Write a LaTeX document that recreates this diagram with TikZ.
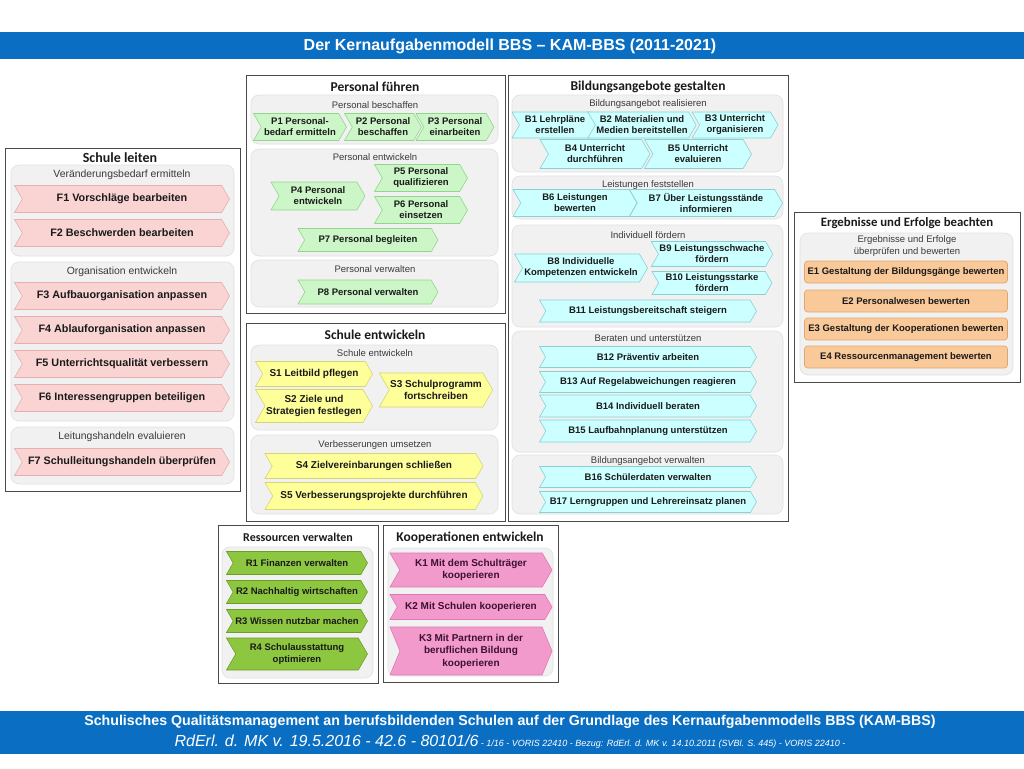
\documentclass[tikz,border=0pt]{standalone}
\usepackage{fontspec}
\setmainfont{Liberation Sans}
\newfontfamily\headfont{Carlito}
\usetikzlibrary{shapes.symbols}
\definecolor{ink}{HTML}{1A1A1A}
\definecolor{barblue}{HTML}{0A6FC2}
\definecolor{frame}{HTML}{4A4A4A}
\definecolor{groupfill}{HTML}{F1F1F1}
\definecolor{groupline}{HTML}{E0E0E0}
\definecolor{sublabel}{HTML}{3A3A3A}
\definecolor{fpink}{HTML}{FAD3D3}
\definecolor{fpinkline}{HTML}{E6AFAF}
\definecolor{pgreen}{HTML}{CCF6C8}
\definecolor{pgreenline}{HTML}{92D68B}
\definecolor{syellow}{HTML}{FFFF99}
\definecolor{syellowline}{HTML}{D4D47A}
\definecolor{bcyan}{HTML}{CCFFFF}
\definecolor{bcyanline}{HTML}{8CCFCF}
\definecolor{eorange}{HTML}{F9C999}
\definecolor{eorangeline}{HTML}{E0A56C}
\definecolor{rgreen}{HTML}{8DC63F}
\definecolor{rgreenline}{HTML}{6E9E2A}
\definecolor{kpink}{HTML}{F39ACD}
\definecolor{kpinkline}{HTML}{DE78B4}
\definecolor{kink}{HTML}{3C1030}

\begin{document}
\begin{tikzpicture}[
  x=1pt, y=-1pt,
  text=ink,
  panel/.style={draw=frame, line width=1pt, fill=white},
  group/.style={draw=groupline, line width=0.6pt, fill=groupfill, rounded corners=8pt},
  heading/.style={font=\headfont\bfseries\fontsize{13.5}{15}\selectfont, inner sep=0pt},
  sublabel/.style={font=\fontsize{9.5}{12}\selectfont, text=sublabel, inner sep=0pt, align=center},
  chev/.style={
    signal, signal from=west, signal to=east,
    signal pointer angle=120,
    line width=0.6pt,
    inner sep=1pt,
    align=center,
    font=\fontsize{9.5}{11}\selectfont\bfseries
  },
  fchev/.style={chev, fill=fpink, draw=fpinkline, minimum width=215pt, minimum height=27pt,
    font=\fontsize{10.8}{12}\selectfont\bfseries},
  pchev/.style={chev, fill=pgreen, draw=pgreenline},
  schev/.style={chev, fill=syellow, draw=syellowline, font=\fontsize{10}{12}\selectfont\bfseries},
  bchev/.style={chev, fill=bcyan, draw=bcyanline},
  rchev/.style={chev, fill=rgreen, draw=rgreenline, minimum width=141pt,
    font=\fontsize{9.5}{11.5}\selectfont\bfseries},
  kchev/.style={chev, fill=kpink, draw=kpinkline, text=kink, minimum width=162pt,
    font=\fontsize{10}{12.5}\selectfont\bfseries},
  ebox/.style={draw=eorangeline, fill=eorange, line width=0.6pt, rounded corners=3pt,
    minimum width=203pt, minimum height=22pt, inner sep=1pt,
    font=\fontsize{9.5}{11}\selectfont\bfseries},
  tall/.style={signal pointer angle=135}
]
\useasboundingbox (0,0) rectangle (1024,768);

% title and footer bars
\fill[barblue] (0,32) rectangle (1024,59);
\node[text=white, font=\fontsize{16}{18}\selectfont\bfseries] (title) at (510,46)
  {Der Kernaufgabenmodell BBS -- KAM-BBS (2011-2021)};
\fill[barblue] (0,711) rectangle (1024,754);
\node[text=white, font=\fontsize{14.2}{16}\selectfont\bfseries] (footer) at (510,722)
  {Schulisches Qualitätsmanagement an berufsbildenden Schulen auf der Grundlage des Kernaufgabenmodells BBS (KAM-BBS)};
\node[text=white, font=\itshape] (source) at (510,742)
  {{\fontsize{16}{17}\selectfont RdErl. d. MK v. 19.5.2016 - 42.6 - 80101/6}{\fontsize{9}{17}\selectfont\ - 1/16 - VORIS 22410 - Bezug: RdErl. d. MK v. 14.10.2011 (SVBl. S. 445) - VORIS 22410 -}};

% Schule leiten
\draw[panel] (5,148) rectangle (240,491);
\node[heading, font=\headfont\bfseries\fontsize{14}{16}\selectfont] (leiten) at (120,158) {Schule leiten};
\draw[group] (11,165) rectangle (234,256);
\node[sublabel, font=\fontsize{10.4}{12}\selectfont] (bedarf) at (122,175) {Veränderungsbedarf ermitteln};
\node[fchev] (f1) at (122,199) {F1 Vorschläge bearbeiten};
\node[fchev] (f2) at (122,233) {F2 Beschwerden bearbeiten};
\draw[group] (11,262) rectangle (234,421);
\node[sublabel, font=\fontsize{10.4}{12}\selectfont] (organisation) at (122,272) {Organisation entwickeln};
\node[fchev] (f3) at (122,296) {F3 Aufbauorganisation anpassen};
\node[fchev] (f4) at (122,330) {F4 Ablauforganisation anpassen};
\node[fchev] (f5) at (122,364) {F5 Unterrichtsqualität verbessern};
\node[fchev] (f6) at (122,398) {F6 Interessengruppen beteiligen};
\draw[group] (11,427) rectangle (234,484);
\node[sublabel, font=\fontsize{10.4}{12}\selectfont] (evaluieren) at (122,437) {Leitungshandeln evaluieren};
\node[fchev] (f7) at (122,462) {F7 Schulleitungshandeln überprüfen};

% Personal fuehren
\draw[panel] (246,75) rectangle (505,313);
\node[heading] (personal) at (375,87) {Personal führen};
\draw[group] (251,95) rectangle (498,144);
\node[sublabel] (beschaffen) at (375,105) {Personal beschaffen};
\node[pchev, minimum width=93pt, minimum height=27pt] (p1) at (300,127) {P1 Personal-\\bedarf ermitteln};
\node[pchev, minimum width=77pt, minimum height=27pt] (p2) at (383,127) {P2 Personal\\beschaffen};
\node[pchev, minimum width=78pt, minimum height=27pt] (p3) at (455,127) {P3 Personal\\einarbeiten};
\draw[group] (251,149) rectangle (498,256);
\node[sublabel] (pentwickeln) at (375,157) {Personal entwickeln};
\node[pchev, minimum width=94pt, minimum height=28pt] (p4) at (318,196) {P4 Personal\\entwickeln};
\node[pchev, minimum width=93pt, minimum height=27pt] (p5) at (421,178) {P5 Personal\\qualifizieren};
\node[pchev, minimum width=93pt, minimum height=27pt] (p6) at (421,210) {P6 Personal\\einsetzen};
\node[pchev, minimum width=140pt, minimum height=23pt] (p7) at (368,240) {P7 Personal begleiten};
\draw[group] (251,260) rectangle (498,307);
\node[sublabel] (verwalten) at (375,269) {Personal verwalten};
\node[pchev, minimum width=140pt, minimum height=24pt] (p8) at (368,292) {P8 Personal verwalten};

% Schule entwickeln
\draw[panel] (246,323) rectangle (505,521);
\node[heading] (sentwickeln) at (375,335) {Schule entwickeln};
\draw[group] (251,345) rectangle (498,430);
\node[sublabel] (schule) at (375,353) {Schule entwickeln};
\node[schev, minimum width=117pt, minimum height=25pt] (s1) at (314,374) {S1 Leitbild pflegen};
\node[schev, minimum width=117pt, minimum height=33pt] (s2) at (314,406) {S2 Ziele und\\Strategien festlegen};
\node[schev, minimum width=111pt, minimum height=34pt] (s3) at (436,390) {S3 Schulprogramm\\fortschreiben};
\draw[group] (251,435) rectangle (498,514);
\node[sublabel] (umsetzen) at (375,445) {Verbesserungen umsetzen};
\node[schev, minimum width=218pt, minimum height=25pt] (s4) at (374,466) {S4 Zielvereinbarungen schließen};
\node[schev, minimum width=218pt, minimum height=27pt] (s5) at (374,496) {S5 Verbesserungsprojekte durchführen};

% Bildungsangebote gestalten
\draw[panel] (508,75) rectangle (788,521);
\node[heading] (bildung) at (648,87) {Bildungsangebote gestalten};
\draw[group] (512,95) rectangle (783,172);
\node[sublabel] (realisieren) at (648,104) {Bildungsangebot realisieren};
\node[bchev, minimum width=86pt, minimum height=26pt] (b1) at (555,125) {B1 Lehrpläne\\erstellen};
\node[bchev, minimum width=100pt, minimum height=26pt] (b2) at (642,125) {B2 Materialien und\\Medien bereitstellen};
\node[bchev, minimum width=86pt, minimum height=26pt] (b3) at (735,125) {B3 Unterricht\\organisieren};
\node[bchev, minimum width=110pt, minimum height=29pt] (b4) at (595,154) {B4 Unterricht\\durchführen};
\node[bchev, minimum width=107pt, minimum height=29pt] (b5) at (698,154) {B5 Unterricht\\evaluieren};
\draw[group] (512,176) rectangle (783,219);
\node[sublabel] (feststellen) at (648,185) {Leistungen feststellen};
\node[bchev, minimum width=124pt, minimum height=27pt] (b6) at (575,203) {B6 Leistungen\\bewerten};
\node[bchev, minimum width=153pt, minimum height=27pt] (b7) at (706,203) {B7 Über Leistungsstände\\informieren};
\draw[group] (512,225) rectangle (783,327);
\node[sublabel] (foerdern) at (648,235) {Individuell fördern};
\node[bchev, minimum width=120pt, minimum height=25pt] (b9) at (712,254) {B9 Leistungsschwache\\fördern};
\node[bchev, minimum width=133pt, minimum height=28pt] (b8) at (581,268) {B8 Individuelle\\Kompetenzen entwickeln};
\node[bchev, minimum width=120pt, minimum height=23pt] (b10) at (712,283) {B10 Leistungsstarke\\fördern};
\node[bchev, minimum width=217pt, minimum height=22pt] (b11) at (648,311) {B11 Leistungsbereitschaft steigern};
\draw[group] (512,331) rectangle (783,452);
\node[sublabel] (beraten) at (648,338) {Beraten und unterstützen};
\node[bchev, minimum width=217pt, minimum height=21pt] (b12) at (648,357) {B12 Präventiv arbeiten};
\node[bchev, minimum width=217pt, minimum height=21pt] (b13) at (648,382) {B13 Auf Regelabweichungen reagieren};
\node[bchev, minimum width=217pt, minimum height=22pt] (b14) at (648,406) {B14 Individuell beraten};
\node[bchev, minimum width=217pt, minimum height=22pt] (b15) at (648,431) {B15 Laufbahnplanung unterstützen};
\draw[group] (512,455) rectangle (783,514);
\node[sublabel] (bverwalten) at (648,461) {Bildungsangebot verwalten};
\node[bchev, minimum width=217pt, minimum height=21pt] (b16) at (648,477) {B16 Schülerdaten verwalten};
\node[bchev, minimum width=217pt, minimum height=21pt] (b17) at (648,502) {B17 Lerngruppen und Lehrereinsatz planen};

% Ergebnisse und Erfolge beachten
\draw[panel] (794,212) rectangle (1020,382);
\node[heading, font=\headfont\bfseries\fontsize{12.8}{15}\selectfont] (ergebnis) at (907,223) {Ergebnisse und Erfolge beachten};
\draw[group] (800,233) rectangle (1013,375);
\node[sublabel] (pruefen) at (907,246) {Ergebnisse und Erfolge\\überprüfen und bewerten};
\node[ebox] (e1) at (906,272) {E1 Gestaltung der Bildungsgänge bewerten};
\node[ebox] (e2) at (906,301) {E2 Personalwesen bewerten};
\node[ebox] (e3) at (906,329) {E3 Gestaltung der Kooperationen bewerten};
\node[ebox] (e4) at (906,357) {E4 Ressourcenmanagement bewerten};

% Ressourcen verwalten
\draw[panel] (218,525) rectangle (378,683);
\node[heading, font=\headfont\bfseries\fontsize{12}{14}\selectfont] (ressourcen) at (298,537) {Ressourcen verwalten};
\draw[group] (222,547) rectangle (373,678);
\node[rchev, minimum height=23pt] (r1) at (297,563) {R1 Finanzen verwalten};
\node[rchev, minimum height=23pt] (r2) at (297,592) {R2 Nachhaltig wirtschaften};
\node[rchev, minimum height=23pt] (r3) at (297,621) {R3 Wissen nutzbar machen};
\node[rchev, minimum height=32pt] (r4) at (297,654) {R4 Schulausstattung\\optimieren};

% Kooperationen entwickeln
\draw[panel] (383,525) rectangle (558,682);
\node[heading] (koop) at (470,538) {Kooperationen entwickeln};
\draw[group] (388,548) rectangle (553,676);
\node[kchev, minimum height=34pt] (k1) at (471,570) {K1 Mit dem Schulträger\\kooperieren};
\node[kchev, minimum height=25pt] (k2) at (471,607) {K2 Mit Schulen kooperieren};
\node[kchev, tall, minimum height=48pt] (k3) at (471,651) {K3 Mit Partnern in der\\beruflichen Bildung\\kooperieren};

\end{tikzpicture}
\end{document}
